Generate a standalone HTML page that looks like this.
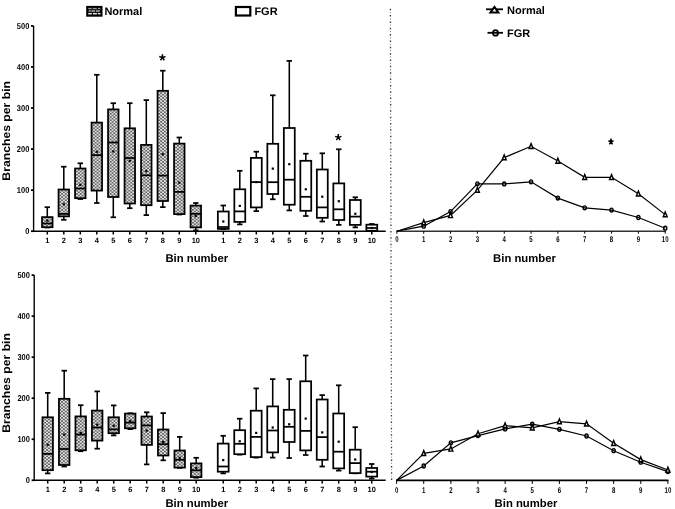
<!DOCTYPE html>
<html><head><meta charset="utf-8"><style>
html,body{margin:0;padding:0;background:#fff;width:675px;height:509px;overflow:hidden;}
body{filter:grayscale(1);}
svg{display:block;}
text{font-family:"Liberation Sans",sans-serif;stroke:none;fill:#000;text-rendering:geometricPrecision;}
.lb{font-weight:bold;}
.tk{font-weight:bold;}
.rt{font-weight:bold;}
</style></head><body>
<svg width="675" height="509" viewBox="0 0 675 509">
<defs>
<pattern id="hatch" x="92.87" y="132.3" width="3.74" height="3.2" patternUnits="userSpaceOnUse">
<rect width="3.74" height="3.2" fill="#e2e2e2"/>
<rect x="1.87" y="0" width="1.87" height="1.6" fill="#666"/>
<rect x="0" y="1.6" width="1.87" height="1.6" fill="#666"/>
</pattern>
</defs>
<rect width="675" height="509" fill="#fff"/>
<g stroke="#000" stroke-width="1.75" fill="none">
<line x1="33.6" y1="25.9" x2="33.6" y2="231.2" stroke-width="1.4"/>
<line x1="31" y1="231.2" x2="33.6" y2="231.2" />
<text transform="translate(29.3,234.1) scale(0.88,1)" text-anchor="end" font-size="8.5" class="tk">0</text>
<line x1="31" y1="190.14" x2="33.6" y2="190.14" />
<text transform="translate(29.3,193.04) scale(0.88,1)" text-anchor="end" font-size="8.5" class="tk">100</text>
<line x1="31" y1="149.08" x2="33.6" y2="149.08" />
<text transform="translate(29.3,151.98) scale(0.88,1)" text-anchor="end" font-size="8.5" class="tk">200</text>
<line x1="31" y1="108.02" x2="33.6" y2="108.02" />
<text transform="translate(29.3,110.92) scale(0.88,1)" text-anchor="end" font-size="8.5" class="tk">300</text>
<line x1="31" y1="66.96" x2="33.6" y2="66.96" />
<text transform="translate(29.3,69.86) scale(0.88,1)" text-anchor="end" font-size="8.5" class="tk">400</text>
<line x1="31" y1="25.9" x2="33.6" y2="25.9" />
<text transform="translate(29.3,28.8) scale(0.88,1)" text-anchor="end" font-size="8.5" class="tk">500</text>
<line x1="32.9" y1="231.2" x2="385.7" y2="231.2" stroke-width="1.4"/>
<line x1="47.3" y1="231.2" x2="47.3" y2="234.5" stroke-width="1.5"/>
<text transform="translate(47.3,242.6) scale(0.98,1)" text-anchor="middle" font-size="7.6" class="tk">1</text>
<line x1="223.3" y1="231.2" x2="223.3" y2="234.5" stroke-width="1.5"/>
<text transform="translate(223.3,242.6) scale(0.98,1)" text-anchor="middle" font-size="7.6" class="tk">1</text>
<line x1="63.8" y1="231.2" x2="63.8" y2="234.5" stroke-width="1.5"/>
<text transform="translate(63.8,242.6) scale(0.98,1)" text-anchor="middle" font-size="7.6" class="tk">2</text>
<line x1="239.8" y1="231.2" x2="239.8" y2="234.5" stroke-width="1.5"/>
<text transform="translate(239.8,242.6) scale(0.98,1)" text-anchor="middle" font-size="7.6" class="tk">2</text>
<line x1="80.3" y1="231.2" x2="80.3" y2="234.5" stroke-width="1.5"/>
<text transform="translate(80.3,242.6) scale(0.98,1)" text-anchor="middle" font-size="7.6" class="tk">3</text>
<line x1="256.3" y1="231.2" x2="256.3" y2="234.5" stroke-width="1.5"/>
<text transform="translate(256.3,242.6) scale(0.98,1)" text-anchor="middle" font-size="7.6" class="tk">3</text>
<line x1="96.8" y1="231.2" x2="96.8" y2="234.5" stroke-width="1.5"/>
<text transform="translate(96.8,242.6) scale(0.98,1)" text-anchor="middle" font-size="7.6" class="tk">4</text>
<line x1="272.8" y1="231.2" x2="272.8" y2="234.5" stroke-width="1.5"/>
<text transform="translate(272.8,242.6) scale(0.98,1)" text-anchor="middle" font-size="7.6" class="tk">4</text>
<line x1="113.3" y1="231.2" x2="113.3" y2="234.5" stroke-width="1.5"/>
<text transform="translate(113.3,242.6) scale(0.98,1)" text-anchor="middle" font-size="7.6" class="tk">5</text>
<line x1="289.3" y1="231.2" x2="289.3" y2="234.5" stroke-width="1.5"/>
<text transform="translate(289.3,242.6) scale(0.98,1)" text-anchor="middle" font-size="7.6" class="tk">5</text>
<line x1="129.8" y1="231.2" x2="129.8" y2="234.5" stroke-width="1.5"/>
<text transform="translate(129.8,242.6) scale(0.98,1)" text-anchor="middle" font-size="7.6" class="tk">6</text>
<line x1="305.8" y1="231.2" x2="305.8" y2="234.5" stroke-width="1.5"/>
<text transform="translate(305.8,242.6) scale(0.98,1)" text-anchor="middle" font-size="7.6" class="tk">6</text>
<line x1="146.3" y1="231.2" x2="146.3" y2="234.5" stroke-width="1.5"/>
<text transform="translate(146.3,242.6) scale(0.98,1)" text-anchor="middle" font-size="7.6" class="tk">7</text>
<line x1="322.3" y1="231.2" x2="322.3" y2="234.5" stroke-width="1.5"/>
<text transform="translate(322.3,242.6) scale(0.98,1)" text-anchor="middle" font-size="7.6" class="tk">7</text>
<line x1="162.8" y1="231.2" x2="162.8" y2="234.5" stroke-width="1.5"/>
<text transform="translate(162.8,242.6) scale(0.98,1)" text-anchor="middle" font-size="7.6" class="tk">8</text>
<line x1="338.8" y1="231.2" x2="338.8" y2="234.5" stroke-width="1.5"/>
<text transform="translate(338.8,242.6) scale(0.98,1)" text-anchor="middle" font-size="7.6" class="tk">8</text>
<line x1="179.3" y1="231.2" x2="179.3" y2="234.5" stroke-width="1.5"/>
<text transform="translate(179.3,242.6) scale(0.98,1)" text-anchor="middle" font-size="7.6" class="tk">9</text>
<line x1="355.3" y1="231.2" x2="355.3" y2="234.5" stroke-width="1.5"/>
<text transform="translate(355.3,242.6) scale(0.98,1)" text-anchor="middle" font-size="7.6" class="tk">9</text>
<line x1="195.8" y1="231.2" x2="195.8" y2="234.5" stroke-width="1.5"/>
<text transform="translate(195.8,242.6) scale(0.98,1)" text-anchor="middle" font-size="7.6" class="tk">10</text>
<line x1="371.8" y1="231.2" x2="371.8" y2="234.5" stroke-width="1.5"/>
<text transform="translate(371.8,242.6) scale(0.98,1)" text-anchor="middle" font-size="7.6" class="tk">10</text>
<line x1="47.3" y1="207.2" x2="47.3" y2="217.1" stroke-width="1.55"/>
<line x1="47.3" y1="227.2" x2="47.3" y2="227.5" stroke-width="1.55"/>
<line x1="44.6" y1="207.2" x2="50" y2="207.2" />
<line x1="44.6" y1="227.5" x2="50" y2="227.5" />
<rect x="42.05" y="217.1" width="10.5" height="10.1" fill="url(#hatch)" />
<line x1="42.05" y1="223.5" x2="52.55" y2="223.5" />
<rect x="46.2" y="219.5" width="2.2" height="2.2" fill="#000" stroke="none"/>
<line x1="63.8" y1="166.7" x2="63.8" y2="189.5" stroke-width="1.55"/>
<line x1="63.8" y1="216.4" x2="63.8" y2="219.8" stroke-width="1.55"/>
<line x1="61.1" y1="166.7" x2="66.5" y2="166.7" />
<line x1="61.1" y1="219.8" x2="66.5" y2="219.8" />
<rect x="58.55" y="189.5" width="10.5" height="26.9" fill="url(#hatch)" />
<line x1="58.55" y1="213.9" x2="69.05" y2="213.9" />
<rect x="62.7" y="203.2" width="2.2" height="2.2" fill="#000" stroke="none"/>
<line x1="80.3" y1="163.3" x2="80.3" y2="168.5" stroke-width="1.55"/>
<line x1="80.3" y1="198.2" x2="80.3" y2="199" stroke-width="1.55"/>
<line x1="77.6" y1="163.3" x2="83" y2="163.3" />
<line x1="77.6" y1="199" x2="83" y2="199" />
<rect x="75.05" y="168.5" width="10.5" height="29.7" fill="url(#hatch)" />
<line x1="75.05" y1="188.5" x2="85.55" y2="188.5" />
<rect x="79.2" y="183.7" width="2.2" height="2.2" fill="#000" stroke="none"/>
<line x1="96.8" y1="74.8" x2="96.8" y2="122.6" stroke-width="1.55"/>
<line x1="96.8" y1="190.6" x2="96.8" y2="203" stroke-width="1.55"/>
<line x1="94.1" y1="74.8" x2="99.5" y2="74.8" />
<line x1="94.1" y1="203" x2="99.5" y2="203" />
<rect x="91.55" y="122.6" width="10.5" height="68" fill="url(#hatch)" />
<line x1="91.55" y1="155.1" x2="102.05" y2="155.1" />
<rect x="95.7" y="150.7" width="2.2" height="2.2" fill="#000" stroke="none"/>
<line x1="113.3" y1="103.2" x2="113.3" y2="109.4" stroke-width="1.55"/>
<line x1="113.3" y1="197" x2="113.3" y2="217.3" stroke-width="1.55"/>
<line x1="110.6" y1="103.2" x2="116" y2="103.2" />
<line x1="110.6" y1="217.3" x2="116" y2="217.3" />
<rect x="108.05" y="109.4" width="10.5" height="87.6" fill="url(#hatch)" />
<line x1="108.05" y1="142.5" x2="118.55" y2="142.5" />
<rect x="112.2" y="150.3" width="2.2" height="2.2" fill="#000" stroke="none"/>
<line x1="129.8" y1="103.2" x2="129.8" y2="128.3" stroke-width="1.55"/>
<line x1="129.8" y1="203.5" x2="129.8" y2="208.2" stroke-width="1.55"/>
<line x1="127.1" y1="103.2" x2="132.5" y2="103.2" />
<line x1="127.1" y1="208.2" x2="132.5" y2="208.2" />
<rect x="124.55" y="128.3" width="10.5" height="75.2" fill="url(#hatch)" />
<line x1="124.55" y1="158" x2="135.05" y2="158" />
<rect x="128.7" y="159.8" width="2.2" height="2.2" fill="#000" stroke="none"/>
<line x1="146.3" y1="100.1" x2="146.3" y2="144.9" stroke-width="1.55"/>
<line x1="146.3" y1="205.2" x2="146.3" y2="215.1" stroke-width="1.55"/>
<line x1="143.6" y1="100.1" x2="149" y2="100.1" />
<line x1="143.6" y1="215.1" x2="149" y2="215.1" />
<rect x="141.05" y="144.9" width="10.5" height="60.3" fill="url(#hatch)" />
<line x1="141.05" y1="175.3" x2="151.55" y2="175.3" />
<rect x="145.2" y="170" width="2.2" height="2.2" fill="#000" stroke="none"/>
<line x1="162.8" y1="70.7" x2="162.8" y2="90.8" stroke-width="1.55"/>
<line x1="162.8" y1="201" x2="162.8" y2="207.1" stroke-width="1.55"/>
<line x1="160.1" y1="70.7" x2="165.5" y2="70.7" />
<line x1="160.1" y1="207.1" x2="165.5" y2="207.1" />
<rect x="157.55" y="90.8" width="10.5" height="110.2" fill="url(#hatch)" />
<line x1="157.55" y1="175.6" x2="168.05" y2="175.6" />
<rect x="161.7" y="153.2" width="2.2" height="2.2" fill="#000" stroke="none"/>
<line x1="179.3" y1="137.5" x2="179.3" y2="143.6" stroke-width="1.55"/>
<line x1="179.3" y1="214.1" x2="179.3" y2="214.5" stroke-width="1.55"/>
<line x1="176.6" y1="137.5" x2="182" y2="137.5" />
<line x1="176.6" y1="214.5" x2="182" y2="214.5" />
<rect x="174.05" y="143.6" width="10.5" height="70.5" fill="url(#hatch)" />
<line x1="174.05" y1="191.9" x2="184.55" y2="191.9" />
<rect x="178.2" y="181.6" width="2.2" height="2.2" fill="#000" stroke="none"/>
<line x1="195.8" y1="203" x2="195.8" y2="205.6" stroke-width="1.55"/>
<line x1="195.8" y1="227.4" x2="195.8" y2="230.4" stroke-width="1.55"/>
<line x1="193.1" y1="203" x2="198.5" y2="203" />
<line x1="193.1" y1="230.4" x2="198.5" y2="230.4" />
<rect x="190.55" y="205.6" width="10.5" height="21.8" fill="url(#hatch)" />
<line x1="190.55" y1="213.8" x2="201.05" y2="213.8" />
<rect x="194.7" y="214.9" width="2.2" height="2.2" fill="#000" stroke="none"/>
<line x1="223.3" y1="205.5" x2="223.3" y2="211.5" stroke-width="1.55"/>
<line x1="223.3" y1="228.9" x2="223.3" y2="229" stroke-width="1.55"/>
<line x1="220.6" y1="205.5" x2="226" y2="205.5" />
<line x1="220.6" y1="229" x2="226" y2="229" />
<rect x="217.85" y="211.5" width="10.9" height="17.4" fill="#fff" />
<line x1="217.85" y1="227" x2="228.75" y2="227" />
<rect x="222.2" y="220.4" width="2.2" height="2.2" fill="#000" stroke="none"/>
<line x1="239.8" y1="170.8" x2="239.8" y2="189.3" stroke-width="1.55"/>
<line x1="239.8" y1="221.9" x2="239.8" y2="224.4" stroke-width="1.55"/>
<line x1="237.1" y1="170.8" x2="242.5" y2="170.8" />
<line x1="237.1" y1="224.4" x2="242.5" y2="224.4" />
<rect x="234.35" y="189.3" width="10.9" height="32.6" fill="#fff" />
<line x1="234.35" y1="211.4" x2="245.25" y2="211.4" />
<rect x="238.7" y="204.8" width="2.2" height="2.2" fill="#000" stroke="none"/>
<line x1="256.3" y1="151.7" x2="256.3" y2="157.9" stroke-width="1.55"/>
<line x1="256.3" y1="207.4" x2="256.3" y2="211.1" stroke-width="1.55"/>
<line x1="253.6" y1="151.7" x2="259" y2="151.7" />
<line x1="253.6" y1="211.1" x2="259" y2="211.1" />
<rect x="250.85" y="157.9" width="10.9" height="49.5" fill="#fff" />
<line x1="250.85" y1="182.1" x2="261.75" y2="182.1" />
<rect x="255.2" y="181" width="2.2" height="2.2" fill="#000" stroke="none"/>
<line x1="272.8" y1="95.3" x2="272.8" y2="143.8" stroke-width="1.55"/>
<line x1="272.8" y1="194" x2="272.8" y2="199.3" stroke-width="1.55"/>
<line x1="270.1" y1="95.3" x2="275.5" y2="95.3" />
<line x1="270.1" y1="199.3" x2="275.5" y2="199.3" />
<rect x="267.35" y="143.8" width="10.9" height="50.2" fill="#fff" />
<line x1="267.35" y1="182.2" x2="278.25" y2="182.2" />
<rect x="271.7" y="167.5" width="2.2" height="2.2" fill="#000" stroke="none"/>
<line x1="289.3" y1="60.9" x2="289.3" y2="128" stroke-width="1.55"/>
<line x1="289.3" y1="204.7" x2="289.3" y2="210.4" stroke-width="1.55"/>
<line x1="286.6" y1="60.9" x2="292" y2="60.9" />
<line x1="286.6" y1="210.4" x2="292" y2="210.4" />
<rect x="283.85" y="128" width="10.9" height="76.7" fill="#fff" />
<line x1="283.85" y1="179.7" x2="294.75" y2="179.7" />
<rect x="288.2" y="163.1" width="2.2" height="2.2" fill="#000" stroke="none"/>
<line x1="305.8" y1="153.7" x2="305.8" y2="160.8" stroke-width="1.55"/>
<line x1="305.8" y1="210.8" x2="305.8" y2="216" stroke-width="1.55"/>
<line x1="303.1" y1="153.7" x2="308.5" y2="153.7" />
<line x1="303.1" y1="216" x2="308.5" y2="216" />
<rect x="300.35" y="160.8" width="10.9" height="50" fill="#fff" />
<line x1="300.35" y1="196.8" x2="311.25" y2="196.8" />
<rect x="304.7" y="188.2" width="2.2" height="2.2" fill="#000" stroke="none"/>
<line x1="322.3" y1="153.3" x2="322.3" y2="169.5" stroke-width="1.55"/>
<line x1="322.3" y1="217.8" x2="322.3" y2="221.5" stroke-width="1.55"/>
<line x1="319.6" y1="153.3" x2="325" y2="153.3" />
<line x1="319.6" y1="221.5" x2="325" y2="221.5" />
<rect x="316.85" y="169.5" width="10.9" height="48.3" fill="#fff" />
<line x1="316.85" y1="207.4" x2="327.75" y2="207.4" />
<rect x="321.2" y="195.6" width="2.2" height="2.2" fill="#000" stroke="none"/>
<line x1="338.8" y1="149.3" x2="338.8" y2="183.4" stroke-width="1.55"/>
<line x1="338.8" y1="220" x2="338.8" y2="224.9" stroke-width="1.55"/>
<line x1="336.1" y1="149.3" x2="341.5" y2="149.3" />
<line x1="336.1" y1="224.9" x2="341.5" y2="224.9" />
<rect x="333.35" y="183.4" width="10.9" height="36.6" fill="#fff" />
<line x1="333.35" y1="209.3" x2="344.25" y2="209.3" />
<rect x="337.7" y="200.1" width="2.2" height="2.2" fill="#000" stroke="none"/>
<line x1="355.3" y1="197.3" x2="355.3" y2="200" stroke-width="1.55"/>
<line x1="355.3" y1="224.9" x2="355.3" y2="227.4" stroke-width="1.55"/>
<line x1="352.6" y1="197.3" x2="358" y2="197.3" />
<line x1="352.6" y1="227.4" x2="358" y2="227.4" />
<rect x="349.85" y="200" width="10.9" height="24.9" fill="#fff" />
<line x1="349.85" y1="216.6" x2="360.75" y2="216.6" />
<rect x="354.2" y="212.7" width="2.2" height="2.2" fill="#000" stroke="none"/>
<line x1="371.8" y1="224" x2="371.8" y2="224.7" stroke-width="1.55"/>
<line x1="371.8" y1="230.8" x2="371.8" y2="231" stroke-width="1.55"/>
<line x1="369.1" y1="224" x2="374.5" y2="224" />
<line x1="369.1" y1="231" x2="374.5" y2="231" />
<rect x="366.35" y="224.7" width="10.9" height="6.1" fill="#fff" />
<line x1="366.35" y1="228" x2="377.25" y2="228" />
<rect x="370.7" y="226.9" width="2.2" height="2.2" fill="#000" stroke="none"/>
<text x="196.8" y="261.6" text-anchor="middle" font-size="11.3" class="lb">Bin number</text>
<text transform="translate(10.2,130.8) rotate(-90) scale(1.1,1)" text-anchor="middle" font-size="11.1" class="lb">Branches per bin</text>
<path d="M162.4,57.6 L162.4,54.3 M162.4,57.6 L165.54,56.58 M162.4,57.6 L164.34,60.27 M162.4,57.6 L160.46,60.27 M162.4,57.6 L159.26,56.58 " stroke="#000" stroke-width="1.5" fill="none"/>
<path d="M338.3,137.4 L338.3,134.1 M338.3,137.4 L341.44,136.38 M338.3,137.4 L340.24,140.07 M338.3,137.4 L336.36,140.07 M338.3,137.4 L335.16,136.38 " stroke="#000" stroke-width="1.5" fill="none"/>
<line x1="34.2" y1="275.1" x2="34.2" y2="480.3" stroke-width="1.4"/>
<line x1="31.6" y1="480.3" x2="34.2" y2="480.3" />
<text transform="translate(29.9,483.2) scale(0.88,1)" text-anchor="end" font-size="8.5" class="tk">0</text>
<line x1="31.6" y1="439.26" x2="34.2" y2="439.26" />
<text transform="translate(29.9,442.16) scale(0.88,1)" text-anchor="end" font-size="8.5" class="tk">100</text>
<line x1="31.6" y1="398.22" x2="34.2" y2="398.22" />
<text transform="translate(29.9,401.12) scale(0.88,1)" text-anchor="end" font-size="8.5" class="tk">200</text>
<line x1="31.6" y1="357.18" x2="34.2" y2="357.18" />
<text transform="translate(29.9,360.08) scale(0.88,1)" text-anchor="end" font-size="8.5" class="tk">300</text>
<line x1="31.6" y1="316.14" x2="34.2" y2="316.14" />
<text transform="translate(29.9,319.04) scale(0.88,1)" text-anchor="end" font-size="8.5" class="tk">400</text>
<line x1="31.6" y1="275.1" x2="34.2" y2="275.1" />
<text transform="translate(29.9,278) scale(0.88,1)" text-anchor="end" font-size="8.5" class="tk">500</text>
<line x1="33.5" y1="480.3" x2="385.7" y2="480.3" stroke-width="1.4"/>
<line x1="47.7" y1="480.3" x2="47.7" y2="483.6" stroke-width="1.5"/>
<text transform="translate(47.7,491.7) scale(0.98,1)" text-anchor="middle" font-size="7.6" class="tk">1</text>
<line x1="223.2" y1="480.3" x2="223.2" y2="483.6" stroke-width="1.5"/>
<text transform="translate(223.2,491.7) scale(0.98,1)" text-anchor="middle" font-size="7.6" class="tk">1</text>
<line x1="64.2" y1="480.3" x2="64.2" y2="483.6" stroke-width="1.5"/>
<text transform="translate(64.2,491.7) scale(0.98,1)" text-anchor="middle" font-size="7.6" class="tk">2</text>
<line x1="239.7" y1="480.3" x2="239.7" y2="483.6" stroke-width="1.5"/>
<text transform="translate(239.7,491.7) scale(0.98,1)" text-anchor="middle" font-size="7.6" class="tk">2</text>
<line x1="80.7" y1="480.3" x2="80.7" y2="483.6" stroke-width="1.5"/>
<text transform="translate(80.7,491.7) scale(0.98,1)" text-anchor="middle" font-size="7.6" class="tk">3</text>
<line x1="256.2" y1="480.3" x2="256.2" y2="483.6" stroke-width="1.5"/>
<text transform="translate(256.2,491.7) scale(0.98,1)" text-anchor="middle" font-size="7.6" class="tk">3</text>
<line x1="97.2" y1="480.3" x2="97.2" y2="483.6" stroke-width="1.5"/>
<text transform="translate(97.2,491.7) scale(0.98,1)" text-anchor="middle" font-size="7.6" class="tk">4</text>
<line x1="272.7" y1="480.3" x2="272.7" y2="483.6" stroke-width="1.5"/>
<text transform="translate(272.7,491.7) scale(0.98,1)" text-anchor="middle" font-size="7.6" class="tk">4</text>
<line x1="113.7" y1="480.3" x2="113.7" y2="483.6" stroke-width="1.5"/>
<text transform="translate(113.7,491.7) scale(0.98,1)" text-anchor="middle" font-size="7.6" class="tk">5</text>
<line x1="289.2" y1="480.3" x2="289.2" y2="483.6" stroke-width="1.5"/>
<text transform="translate(289.2,491.7) scale(0.98,1)" text-anchor="middle" font-size="7.6" class="tk">5</text>
<line x1="130.2" y1="480.3" x2="130.2" y2="483.6" stroke-width="1.5"/>
<text transform="translate(130.2,491.7) scale(0.98,1)" text-anchor="middle" font-size="7.6" class="tk">6</text>
<line x1="305.7" y1="480.3" x2="305.7" y2="483.6" stroke-width="1.5"/>
<text transform="translate(305.7,491.7) scale(0.98,1)" text-anchor="middle" font-size="7.6" class="tk">6</text>
<line x1="146.7" y1="480.3" x2="146.7" y2="483.6" stroke-width="1.5"/>
<text transform="translate(146.7,491.7) scale(0.98,1)" text-anchor="middle" font-size="7.6" class="tk">7</text>
<line x1="322.2" y1="480.3" x2="322.2" y2="483.6" stroke-width="1.5"/>
<text transform="translate(322.2,491.7) scale(0.98,1)" text-anchor="middle" font-size="7.6" class="tk">7</text>
<line x1="163.2" y1="480.3" x2="163.2" y2="483.6" stroke-width="1.5"/>
<text transform="translate(163.2,491.7) scale(0.98,1)" text-anchor="middle" font-size="7.6" class="tk">8</text>
<line x1="338.7" y1="480.3" x2="338.7" y2="483.6" stroke-width="1.5"/>
<text transform="translate(338.7,491.7) scale(0.98,1)" text-anchor="middle" font-size="7.6" class="tk">8</text>
<line x1="179.7" y1="480.3" x2="179.7" y2="483.6" stroke-width="1.5"/>
<text transform="translate(179.7,491.7) scale(0.98,1)" text-anchor="middle" font-size="7.6" class="tk">9</text>
<line x1="355.2" y1="480.3" x2="355.2" y2="483.6" stroke-width="1.5"/>
<text transform="translate(355.2,491.7) scale(0.98,1)" text-anchor="middle" font-size="7.6" class="tk">9</text>
<line x1="196.2" y1="480.3" x2="196.2" y2="483.6" stroke-width="1.5"/>
<text transform="translate(196.2,491.7) scale(0.98,1)" text-anchor="middle" font-size="7.6" class="tk">10</text>
<line x1="371.7" y1="480.3" x2="371.7" y2="483.6" stroke-width="1.5"/>
<text transform="translate(371.7,491.7) scale(0.98,1)" text-anchor="middle" font-size="7.6" class="tk">10</text>
<line x1="47.7" y1="392.9" x2="47.7" y2="417.3" stroke-width="1.55"/>
<line x1="47.7" y1="470.2" x2="47.7" y2="473.4" stroke-width="1.55"/>
<line x1="45" y1="392.9" x2="50.4" y2="392.9" />
<line x1="45" y1="473.4" x2="50.4" y2="473.4" />
<rect x="42.45" y="417.3" width="10.5" height="52.9" fill="url(#hatch)" />
<line x1="42.45" y1="453.9" x2="52.95" y2="453.9" />
<rect x="46.6" y="443.6" width="2.2" height="2.2" fill="#000" stroke="none"/>
<line x1="64.2" y1="370.7" x2="64.2" y2="398.8" stroke-width="1.55"/>
<line x1="64.2" y1="465" x2="64.2" y2="466.5" stroke-width="1.55"/>
<line x1="61.5" y1="370.7" x2="66.9" y2="370.7" />
<line x1="61.5" y1="466.5" x2="66.9" y2="466.5" />
<rect x="58.95" y="398.8" width="10.5" height="66.2" fill="url(#hatch)" />
<line x1="58.95" y1="449" x2="69.45" y2="449" />
<rect x="63.1" y="433.5" width="2.2" height="2.2" fill="#000" stroke="none"/>
<line x1="80.7" y1="405.2" x2="80.7" y2="416.4" stroke-width="1.55"/>
<line x1="80.7" y1="450.3" x2="80.7" y2="451.2" stroke-width="1.55"/>
<line x1="78" y1="405.2" x2="83.4" y2="405.2" />
<line x1="78" y1="451.2" x2="83.4" y2="451.2" />
<rect x="75.45" y="416.4" width="10.5" height="33.9" fill="url(#hatch)" />
<line x1="75.45" y1="434.6" x2="85.95" y2="434.6" />
<rect x="79.6" y="431.9" width="2.2" height="2.2" fill="#000" stroke="none"/>
<line x1="97.2" y1="391.4" x2="97.2" y2="410.6" stroke-width="1.55"/>
<line x1="97.2" y1="440.6" x2="97.2" y2="448.7" stroke-width="1.55"/>
<line x1="94.5" y1="391.4" x2="99.9" y2="391.4" />
<line x1="94.5" y1="448.7" x2="99.9" y2="448.7" />
<rect x="91.95" y="410.6" width="10.5" height="30" fill="url(#hatch)" />
<line x1="91.95" y1="427.5" x2="102.45" y2="427.5" />
<rect x="96.1" y="423.6" width="2.2" height="2.2" fill="#000" stroke="none"/>
<line x1="113.7" y1="405.4" x2="113.7" y2="417.3" stroke-width="1.55"/>
<line x1="113.7" y1="433.2" x2="113.7" y2="435.4" stroke-width="1.55"/>
<line x1="111" y1="405.4" x2="116.4" y2="405.4" />
<line x1="111" y1="435.4" x2="116.4" y2="435.4" />
<rect x="108.45" y="417.3" width="10.5" height="15.9" fill="url(#hatch)" />
<line x1="108.45" y1="429.4" x2="118.95" y2="429.4" />
<rect x="112.6" y="424.6" width="2.2" height="2.2" fill="#000" stroke="none"/>
<line x1="130.2" y1="413.3" x2="130.2" y2="413.6" stroke-width="1.55"/>
<line x1="130.2" y1="428.3" x2="130.2" y2="429.1" stroke-width="1.55"/>
<line x1="127.5" y1="413.3" x2="132.9" y2="413.3" />
<line x1="127.5" y1="429.1" x2="132.9" y2="429.1" />
<rect x="124.95" y="413.6" width="10.5" height="14.7" fill="url(#hatch)" />
<line x1="124.95" y1="422.6" x2="135.45" y2="422.6" />
<rect x="129.1" y="419.9" width="2.2" height="2.2" fill="#000" stroke="none"/>
<line x1="146.7" y1="412.3" x2="146.7" y2="416.5" stroke-width="1.55"/>
<line x1="146.7" y1="444.9" x2="146.7" y2="464.4" stroke-width="1.55"/>
<line x1="144" y1="412.3" x2="149.4" y2="412.3" />
<line x1="144" y1="464.4" x2="149.4" y2="464.4" />
<rect x="141.45" y="416.5" width="10.5" height="28.4" fill="url(#hatch)" />
<line x1="141.45" y1="425.4" x2="151.95" y2="425.4" />
<rect x="145.6" y="429.5" width="2.2" height="2.2" fill="#000" stroke="none"/>
<line x1="163.2" y1="413.1" x2="163.2" y2="429.5" stroke-width="1.55"/>
<line x1="163.2" y1="455.5" x2="163.2" y2="460.3" stroke-width="1.55"/>
<line x1="160.5" y1="413.1" x2="165.9" y2="413.1" />
<line x1="160.5" y1="460.3" x2="165.9" y2="460.3" />
<rect x="157.95" y="429.5" width="10.5" height="26" fill="url(#hatch)" />
<line x1="157.95" y1="444.2" x2="168.45" y2="444.2" />
<rect x="162.1" y="440.9" width="2.2" height="2.2" fill="#000" stroke="none"/>
<line x1="179.7" y1="436.9" x2="179.7" y2="450.5" stroke-width="1.55"/>
<line x1="179.7" y1="467.6" x2="179.7" y2="467.8" stroke-width="1.55"/>
<line x1="177" y1="436.9" x2="182.4" y2="436.9" />
<line x1="177" y1="467.8" x2="182.4" y2="467.8" />
<rect x="174.45" y="450.5" width="10.5" height="17.1" fill="url(#hatch)" />
<line x1="174.45" y1="459.8" x2="184.95" y2="459.8" />
<rect x="178.6" y="456.7" width="2.2" height="2.2" fill="#000" stroke="none"/>
<line x1="196.2" y1="457.8" x2="196.2" y2="463.4" stroke-width="1.55"/>
<line x1="196.2" y1="477.1" x2="196.2" y2="477.7" stroke-width="1.55"/>
<line x1="193.5" y1="457.8" x2="198.9" y2="457.8" />
<line x1="193.5" y1="477.7" x2="198.9" y2="477.7" />
<rect x="190.95" y="463.4" width="10.5" height="13.7" fill="url(#hatch)" />
<line x1="190.95" y1="470.3" x2="201.45" y2="470.3" />
<rect x="195.1" y="466.9" width="2.2" height="2.2" fill="#000" stroke="none"/>
<line x1="223.2" y1="435.8" x2="223.2" y2="443.6" stroke-width="1.55"/>
<line x1="223.2" y1="471.7" x2="223.2" y2="473.4" stroke-width="1.55"/>
<line x1="220.5" y1="435.8" x2="225.9" y2="435.8" />
<line x1="220.5" y1="473.4" x2="225.9" y2="473.4" />
<rect x="217.75" y="443.6" width="10.9" height="28.1" fill="#fff" />
<line x1="217.75" y1="466.5" x2="228.65" y2="466.5" />
<rect x="222.1" y="459" width="2.2" height="2.2" fill="#000" stroke="none"/>
<line x1="239.7" y1="418.7" x2="239.7" y2="430.2" stroke-width="1.55"/>
<line x1="239.7" y1="454.2" x2="239.7" y2="454.6" stroke-width="1.55"/>
<line x1="237" y1="418.7" x2="242.4" y2="418.7" />
<line x1="237" y1="454.6" x2="242.4" y2="454.6" />
<rect x="234.25" y="430.2" width="10.9" height="24" fill="#fff" />
<line x1="234.25" y1="443.8" x2="245.15" y2="443.8" />
<rect x="238.6" y="440.2" width="2.2" height="2.2" fill="#000" stroke="none"/>
<line x1="256.2" y1="388.4" x2="256.2" y2="410.7" stroke-width="1.55"/>
<line x1="256.2" y1="457.1" x2="256.2" y2="457.6" stroke-width="1.55"/>
<line x1="253.5" y1="388.4" x2="258.9" y2="388.4" />
<line x1="253.5" y1="457.6" x2="258.9" y2="457.6" />
<rect x="250.75" y="410.7" width="10.9" height="46.4" fill="#fff" />
<line x1="250.75" y1="436.9" x2="261.65" y2="436.9" />
<rect x="255.1" y="431.8" width="2.2" height="2.2" fill="#000" stroke="none"/>
<line x1="272.7" y1="379.1" x2="272.7" y2="406.4" stroke-width="1.55"/>
<line x1="272.7" y1="452.4" x2="272.7" y2="457.6" stroke-width="1.55"/>
<line x1="270" y1="379.1" x2="275.4" y2="379.1" />
<line x1="270" y1="457.6" x2="275.4" y2="457.6" />
<rect x="267.25" y="406.4" width="10.9" height="46" fill="#fff" />
<line x1="267.25" y1="430.5" x2="278.15" y2="430.5" />
<rect x="271.6" y="426.4" width="2.2" height="2.2" fill="#000" stroke="none"/>
<line x1="289.2" y1="379.1" x2="289.2" y2="409.8" stroke-width="1.55"/>
<line x1="289.2" y1="442" x2="289.2" y2="458" stroke-width="1.55"/>
<line x1="286.5" y1="379.1" x2="291.9" y2="379.1" />
<line x1="286.5" y1="458" x2="291.9" y2="458" />
<rect x="283.75" y="409.8" width="10.9" height="32.2" fill="#fff" />
<line x1="283.75" y1="426.8" x2="294.65" y2="426.8" />
<rect x="288.1" y="423.2" width="2.2" height="2.2" fill="#000" stroke="none"/>
<line x1="305.7" y1="355.5" x2="305.7" y2="381.3" stroke-width="1.55"/>
<line x1="305.7" y1="450.4" x2="305.7" y2="455" stroke-width="1.55"/>
<line x1="303" y1="355.5" x2="308.4" y2="355.5" />
<line x1="303" y1="455" x2="308.4" y2="455" />
<rect x="300.25" y="381.3" width="10.9" height="69.1" fill="#fff" />
<line x1="300.25" y1="430.9" x2="311.15" y2="430.9" />
<rect x="304.6" y="417.5" width="2.2" height="2.2" fill="#000" stroke="none"/>
<line x1="322.2" y1="395.1" x2="322.2" y2="399.5" stroke-width="1.55"/>
<line x1="322.2" y1="459.8" x2="322.2" y2="466.5" stroke-width="1.55"/>
<line x1="319.5" y1="395.1" x2="324.9" y2="395.1" />
<line x1="319.5" y1="466.5" x2="324.9" y2="466.5" />
<rect x="316.75" y="399.5" width="10.9" height="60.3" fill="#fff" />
<line x1="316.75" y1="437.1" x2="327.65" y2="437.1" />
<rect x="321.1" y="431.3" width="2.2" height="2.2" fill="#000" stroke="none"/>
<line x1="338.7" y1="385.3" x2="338.7" y2="413.5" stroke-width="1.55"/>
<line x1="338.7" y1="468.4" x2="338.7" y2="470.6" stroke-width="1.55"/>
<line x1="336" y1="385.3" x2="341.4" y2="385.3" />
<line x1="336" y1="470.6" x2="341.4" y2="470.6" />
<rect x="333.25" y="413.5" width="10.9" height="54.9" fill="#fff" />
<line x1="333.25" y1="451.7" x2="344.15" y2="451.7" />
<rect x="337.6" y="440.6" width="2.2" height="2.2" fill="#000" stroke="none"/>
<line x1="355.2" y1="427.2" x2="355.2" y2="449.7" stroke-width="1.55"/>
<line x1="355.2" y1="473.1" x2="355.2" y2="473.3" stroke-width="1.55"/>
<line x1="352.5" y1="427.2" x2="357.9" y2="427.2" />
<line x1="352.5" y1="473.3" x2="357.9" y2="473.3" />
<rect x="349.75" y="449.7" width="10.9" height="23.4" fill="#fff" />
<line x1="349.75" y1="463.1" x2="360.65" y2="463.1" />
<rect x="354.1" y="458.4" width="2.2" height="2.2" fill="#000" stroke="none"/>
<line x1="371.7" y1="464" x2="371.7" y2="468" stroke-width="1.55"/>
<line x1="371.7" y1="476.6" x2="371.7" y2="478.6" stroke-width="1.55"/>
<line x1="369" y1="464" x2="374.4" y2="464" />
<line x1="369" y1="478.6" x2="374.4" y2="478.6" />
<rect x="366.25" y="468" width="10.9" height="8.6" fill="#fff" />
<line x1="366.25" y1="471.7" x2="377.15" y2="471.7" />
<rect x="370.6" y="470.9" width="2.2" height="2.2" fill="#000" stroke="none"/>
<text x="196.8" y="506.6" text-anchor="middle" font-size="11.3" class="lb">Bin number</text>
<text transform="translate(10.2,382.9) rotate(-90) scale(1.1,1)" text-anchor="middle" font-size="11.1" class="lb">Branches per bin</text>
</g>
<g stroke="#000" stroke-width="1">
<line x1="396.4" y1="231.2" x2="665.8" y2="231.2" stroke="#333" stroke-width="1.4"/>
<line x1="396.9" y1="231.2" x2="396.9" y2="233.7" />
<text transform="translate(396.9,242.4) scale(0.72,1)" text-anchor="middle" font-size="8.4" class="rt">0</text>
<line x1="423.73" y1="231.2" x2="423.73" y2="233.7" />
<text transform="translate(423.73,242.4) scale(0.72,1)" text-anchor="middle" font-size="8.4" class="rt">1</text>
<line x1="450.56" y1="231.2" x2="450.56" y2="233.7" />
<text transform="translate(450.56,242.4) scale(0.72,1)" text-anchor="middle" font-size="8.4" class="rt">2</text>
<line x1="477.39" y1="231.2" x2="477.39" y2="233.7" />
<text transform="translate(477.39,242.4) scale(0.72,1)" text-anchor="middle" font-size="8.4" class="rt">3</text>
<line x1="504.22" y1="231.2" x2="504.22" y2="233.7" />
<text transform="translate(504.22,242.4) scale(0.72,1)" text-anchor="middle" font-size="8.4" class="rt">4</text>
<line x1="531.05" y1="231.2" x2="531.05" y2="233.7" />
<text transform="translate(531.05,242.4) scale(0.72,1)" text-anchor="middle" font-size="8.4" class="rt">5</text>
<line x1="557.88" y1="231.2" x2="557.88" y2="233.7" />
<text transform="translate(557.88,242.4) scale(0.72,1)" text-anchor="middle" font-size="8.4" class="rt">6</text>
<line x1="584.71" y1="231.2" x2="584.71" y2="233.7" />
<text transform="translate(584.71,242.4) scale(0.72,1)" text-anchor="middle" font-size="8.4" class="rt">7</text>
<line x1="611.54" y1="231.2" x2="611.54" y2="233.7" />
<text transform="translate(611.54,242.4) scale(0.72,1)" text-anchor="middle" font-size="8.4" class="rt">8</text>
<line x1="638.37" y1="231.2" x2="638.37" y2="233.7" />
<text transform="translate(638.37,242.4) scale(0.72,1)" text-anchor="middle" font-size="8.4" class="rt">9</text>
<line x1="665.2" y1="231.2" x2="665.2" y2="233.7" />
<text transform="translate(665.2,242.4) scale(0.72,1)" text-anchor="middle" font-size="8.4" class="rt">10</text>
<polyline points="396.9,231.2 423.73,222.6 450.56,215.4 477.39,190.1 504.22,157.6 531.05,146.3 557.88,161 584.71,177.3 611.54,177.3 638.37,193.8 665.2,214.6" fill="none" stroke="#000" stroke-width="1.2"/>
<polyline points="396.9,231.2 423.73,226.2 450.56,211.6 477.39,183.8 504.22,183.9 531.05,181.8 557.88,198.1 584.71,207.8 611.54,210.1 638.37,217.5 665.2,228.2" fill="none" stroke="#000" stroke-width="1.2"/>
<ellipse cx="423.73" cy="226.2" rx="1.6" ry="1.95" fill="none" stroke="#000" stroke-width="1.4"/>
<ellipse cx="450.56" cy="211.6" rx="1.6" ry="1.95" fill="none" stroke="#000" stroke-width="1.4"/>
<ellipse cx="477.39" cy="183.8" rx="1.6" ry="1.95" fill="none" stroke="#000" stroke-width="1.4"/>
<ellipse cx="504.22" cy="183.9" rx="1.6" ry="1.95" fill="none" stroke="#000" stroke-width="1.4"/>
<ellipse cx="531.05" cy="181.8" rx="1.6" ry="1.95" fill="none" stroke="#000" stroke-width="1.4"/>
<ellipse cx="557.88" cy="198.1" rx="1.6" ry="1.95" fill="none" stroke="#000" stroke-width="1.4"/>
<ellipse cx="584.71" cy="207.8" rx="1.6" ry="1.95" fill="none" stroke="#000" stroke-width="1.4"/>
<ellipse cx="611.54" cy="210.1" rx="1.6" ry="1.95" fill="none" stroke="#000" stroke-width="1.4"/>
<ellipse cx="638.37" cy="217.5" rx="1.6" ry="1.95" fill="none" stroke="#000" stroke-width="1.4"/>
<ellipse cx="665.2" cy="228.2" rx="1.6" ry="1.95" fill="none" stroke="#000" stroke-width="1.4"/>
<path d="M423.73,219.9 L425.68,224.8 L421.78,224.8 Z" fill="#fff" stroke="#000" stroke-width="1.45"/>
<path d="M450.56,212.7 L452.51,217.6 L448.61,217.6 Z" fill="#fff" stroke="#000" stroke-width="1.45"/>
<path d="M477.39,187.4 L479.34,192.3 L475.44,192.3 Z" fill="#fff" stroke="#000" stroke-width="1.45"/>
<path d="M504.22,154.9 L506.17,159.8 L502.27,159.8 Z" fill="#fff" stroke="#000" stroke-width="1.45"/>
<path d="M531.05,143.6 L533,148.5 L529.1,148.5 Z" fill="#fff" stroke="#000" stroke-width="1.45"/>
<path d="M557.88,158.3 L559.83,163.2 L555.93,163.2 Z" fill="#fff" stroke="#000" stroke-width="1.45"/>
<path d="M584.71,174.6 L586.66,179.5 L582.76,179.5 Z" fill="#fff" stroke="#000" stroke-width="1.45"/>
<path d="M611.54,174.6 L613.49,179.5 L609.59,179.5 Z" fill="#fff" stroke="#000" stroke-width="1.45"/>
<path d="M638.37,191.1 L640.32,196 L636.42,196 Z" fill="#fff" stroke="#000" stroke-width="1.45"/>
<path d="M665.2,211.9 L667.15,216.8 L663.25,216.8 Z" fill="#fff" stroke="#000" stroke-width="1.45"/>
<text x="524.5" y="261.5" text-anchor="middle" font-size="11.3" class="lb">Bin number</text>
<path d="M611,141.8 L611,138.5 M611,141.8 L613.57,140.78 M611,141.8 L612.59,144.47 M611,141.8 L609.41,144.47 M611,141.8 L608.43,140.78 " stroke="#000" stroke-width="1.5" fill="none"/>
<line x1="396.1" y1="480.4" x2="668.5" y2="480.4" stroke="#000" stroke-width="1.7"/>
<line x1="396.6" y1="480.4" x2="396.6" y2="483.9" />
<text transform="translate(396.6,493.2) scale(0.72,1)" text-anchor="middle" font-size="8.4" class="rt">0</text>
<line x1="423.73" y1="480.4" x2="423.73" y2="483.9" />
<text transform="translate(423.73,493.2) scale(0.72,1)" text-anchor="middle" font-size="8.4" class="rt">1</text>
<line x1="450.86" y1="480.4" x2="450.86" y2="483.9" />
<text transform="translate(450.86,493.2) scale(0.72,1)" text-anchor="middle" font-size="8.4" class="rt">2</text>
<line x1="477.99" y1="480.4" x2="477.99" y2="483.9" />
<text transform="translate(477.99,493.2) scale(0.72,1)" text-anchor="middle" font-size="8.4" class="rt">3</text>
<line x1="505.12" y1="480.4" x2="505.12" y2="483.9" />
<text transform="translate(505.12,493.2) scale(0.72,1)" text-anchor="middle" font-size="8.4" class="rt">4</text>
<line x1="532.25" y1="480.4" x2="532.25" y2="483.9" />
<text transform="translate(532.25,493.2) scale(0.72,1)" text-anchor="middle" font-size="8.4" class="rt">5</text>
<line x1="559.38" y1="480.4" x2="559.38" y2="483.9" />
<text transform="translate(559.38,493.2) scale(0.72,1)" text-anchor="middle" font-size="8.4" class="rt">6</text>
<line x1="586.51" y1="480.4" x2="586.51" y2="483.9" />
<text transform="translate(586.51,493.2) scale(0.72,1)" text-anchor="middle" font-size="8.4" class="rt">7</text>
<line x1="613.64" y1="480.4" x2="613.64" y2="483.9" />
<text transform="translate(613.64,493.2) scale(0.72,1)" text-anchor="middle" font-size="8.4" class="rt">8</text>
<line x1="640.77" y1="480.4" x2="640.77" y2="483.9" />
<text transform="translate(640.77,493.2) scale(0.72,1)" text-anchor="middle" font-size="8.4" class="rt">9</text>
<line x1="667.9" y1="480.4" x2="667.9" y2="483.9" />
<text transform="translate(667.9,493.2) scale(0.72,1)" text-anchor="middle" font-size="8.4" class="rt">10</text>
<polyline points="396.6,480.4 423.73,453.3 450.86,448.9 477.99,433.8 505.12,425.6 532.25,427.8 559.38,421.6 586.51,423.8 613.64,443.3 640.77,459.6 667.9,470" fill="none" stroke="#000" stroke-width="1.2"/>
<polyline points="396.6,480.4 423.73,466 450.86,442.8 477.99,435.6 505.12,428.9 532.25,424.2 559.38,429.3 586.51,436 613.64,450.7 640.77,462.2 667.9,471.6" fill="none" stroke="#000" stroke-width="1.2"/>
<ellipse cx="423.73" cy="466" rx="1.6" ry="1.95" fill="none" stroke="#000" stroke-width="1.4"/>
<ellipse cx="450.86" cy="442.8" rx="1.6" ry="1.95" fill="none" stroke="#000" stroke-width="1.4"/>
<ellipse cx="477.99" cy="435.6" rx="1.6" ry="1.95" fill="none" stroke="#000" stroke-width="1.4"/>
<ellipse cx="505.12" cy="428.9" rx="1.6" ry="1.95" fill="none" stroke="#000" stroke-width="1.4"/>
<ellipse cx="532.25" cy="424.2" rx="1.6" ry="1.95" fill="none" stroke="#000" stroke-width="1.4"/>
<ellipse cx="559.38" cy="429.3" rx="1.6" ry="1.95" fill="none" stroke="#000" stroke-width="1.4"/>
<ellipse cx="586.51" cy="436" rx="1.6" ry="1.95" fill="none" stroke="#000" stroke-width="1.4"/>
<ellipse cx="613.64" cy="450.7" rx="1.6" ry="1.95" fill="none" stroke="#000" stroke-width="1.4"/>
<ellipse cx="640.77" cy="462.2" rx="1.6" ry="1.95" fill="none" stroke="#000" stroke-width="1.4"/>
<ellipse cx="667.9" cy="471.6" rx="1.6" ry="1.95" fill="none" stroke="#000" stroke-width="1.4"/>
<path d="M423.73,450.6 L425.68,455.5 L421.78,455.5 Z" fill="#fff" stroke="#000" stroke-width="1.45"/>
<path d="M450.86,446.2 L452.81,451.1 L448.91,451.1 Z" fill="#fff" stroke="#000" stroke-width="1.45"/>
<path d="M477.99,431.1 L479.94,436 L476.04,436 Z" fill="#fff" stroke="#000" stroke-width="1.45"/>
<path d="M505.12,422.9 L507.07,427.8 L503.17,427.8 Z" fill="#fff" stroke="#000" stroke-width="1.45"/>
<path d="M532.25,425.1 L534.2,430 L530.3,430 Z" fill="#fff" stroke="#000" stroke-width="1.45"/>
<path d="M559.38,418.9 L561.33,423.8 L557.43,423.8 Z" fill="#fff" stroke="#000" stroke-width="1.45"/>
<path d="M586.51,421.1 L588.46,426 L584.56,426 Z" fill="#fff" stroke="#000" stroke-width="1.45"/>
<path d="M613.64,440.6 L615.59,445.5 L611.69,445.5 Z" fill="#fff" stroke="#000" stroke-width="1.45"/>
<path d="M640.77,456.9 L642.72,461.8 L638.82,461.8 Z" fill="#fff" stroke="#000" stroke-width="1.45"/>
<path d="M667.9,467.3 L669.85,472.2 L665.95,472.2 Z" fill="#fff" stroke="#000" stroke-width="1.45"/>
<text x="526" y="507" text-anchor="middle" font-size="11.3" class="lb">Bin number</text>
</g>
<line x1="390.4" y1="8.7" x2="391.6" y2="481" stroke="#333" stroke-width="1.3" stroke-dasharray="1.5,4.85"/>
<line x1="390.4" y1="11.9" x2="391.6" y2="481" stroke="#999" stroke-width="1.1" stroke-dasharray="1.2,5.15"/>
<rect x="87.3" y="7" width="14.1" height="8.6" fill="#111" stroke="#000" stroke-width="2.2"/>
<rect x="88.3" y="7.85" width="3.4" height="1.3" fill="#9a9a9a"/>
<rect x="92.8" y="7.85" width="3.9" height="1.3" fill="#9a9a9a"/>
<rect x="98" y="7.85" width="2.4" height="1.3" fill="#9a9a9a"/>
<rect x="88.7" y="10.35" width="2" height="1.3" fill="#c4c4c4"/>
<rect x="91.4" y="10.35" width="3.6" height="1.3" fill="#c4c4c4"/>
<rect x="95.9" y="10.35" width="3.8" height="1.3" fill="#c4c4c4"/>
<rect x="88.2" y="13.049999999999999" width="3.6" height="1.3" fill="#f4f4f4"/>
<rect x="93" y="13.049999999999999" width="3.9" height="1.3" fill="#f4f4f4"/>
<rect x="98" y="13.049999999999999" width="2.5" height="1.3" fill="#f4f4f4"/>
<text x="104.4" y="14.8" font-size="11" class="lb">Normal</text>
<rect x="235.9" y="7" width="14.4" height="8.5" fill="#fff" stroke="#000" stroke-width="2.2"/>
<text x="254.4" y="14.6" font-size="11" class="lb">FGR</text>
<line x1="486" y1="9.3" x2="503" y2="9.3" stroke="#000" stroke-width="1.8"/>
<path d="M494.4,6.9 L498.4,12.6 L490.4,12.6 Z" fill="#fff" stroke="#000" stroke-width="2"/>
<text x="507" y="14.2" font-size="11" class="lb">Normal</text>
<line x1="487.5" y1="32.8" x2="503" y2="32.8" stroke="#000" stroke-width="1.8"/>
<ellipse cx="495.5" cy="32.9" rx="2.5" ry="2.8" fill="none" stroke="#000" stroke-width="1.8"/>
<text x="507" y="37.2" font-size="11" class="lb">FGR</text>
</svg>
</body></html>
